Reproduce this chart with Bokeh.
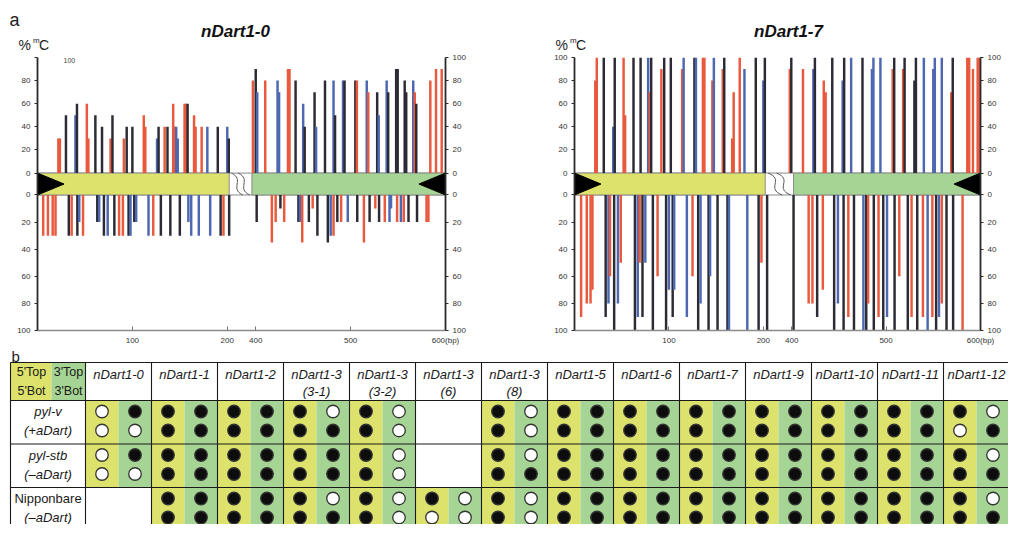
from bokeh.plotting import figure
from bokeh.models import Range1d, LinearAxis, FixedTicker, CustomJSTickFormatter, Label
from bokeh.layouts import column, row
from bokeh.embed import file_html
from bokeh.resources import INLINE
from bokeh.core.properties import value

FONT = "Liberation Sans"
CTX_COLORS = {"C": "#2b2b35", "G": "#4d68b0", "H": "#e9593d"}   # CG, CHG, CHH
YELLOW = "#dce26c"
GREEN = "#a6d494"

# ---------------- data: panel a (bp position, context, % methylation) ----------------
n0_top_pos = [22, 23.6, 30, 40, 41.6, 52, 53.6, 61, 68, 77, 79, 91, 94, 100, 112, 113.6, 126, 127.6, 134, 137,
              143, 144.6, 146.2, 147.8, 155, 156.6, 158.2, 165, 166.6, 173, 179, 190, 200, 201.6,
              397, 400, 401.6, 410, 423, 424.6, 434, 435.6, 442, 450, 451.6, 462, 463.6, 473, 482, 483.6,
              492, 493.6, 505, 506.6, 517, 518.6, 528, 529.6, 538, 539.6, 548, 549.6, 557, 558.6, 566, 567.6,
              569.2, 584, 590, 596]
n0_top_ctx = ["H", "H", "C", "G", "C", "H", "H", "C", "C", "H", "C", "H", "C", "C", "H", "H", "G", "C", "H", "C",
              "H", "H", "G", "G", "H", "H", "C", "H", "H", "H", "G", "C", "G", "C",
              "H", "C", "G", "H", "G", "G", "H", "H", "C", "G", "C", "C", "G", "C", "G", "C",
              "G", "C", "C", "H", "G", "H", "C", "G", "G", "C", "C", "C", "C", "C", "G", "H",
              "C", "H", "H", "H"]
n0_top_val = [30, 30, 50, 50, 60, 60, 30, 50, 40, 30, 50, 30, 40, 40, 50, 40, 30, 40, 40, 40,
              60, 40, 40, 30, 60, 60, 60, 50, 40, 40, 40, 40, 40, 30,
              80, 90, 70, 80, 80, 70, 90, 90, 80, 60, 40, 70, 40, 80, 80, 50,
              80, 80, 80, 80, 80, 70, 70, 50, 80, 70, 90, 90, 80, 70, 80, 70,
              60, 80, 90, 90]

n0_bot_pos = [6, 11, 16, 19, 33, 36, 42, 44, 48, 63, 65, 70, 74, 81, 86, 90, 96, 98, 102, 104, 117, 122, 130,
              140, 150, 159, 162, 170, 182, 193, 196, 202,
              401, 417, 421, 426, 430, 445, 446.6, 449, 456, 460, 465, 476, 479, 482, 486, 490, 497, 507, 514,
              520, 526, 530, 536, 541, 542.6, 549, 553, 556, 561, 570, 580, 582]
n0_bot_ctx = ["H", "H", "H", "H", "C", "H", "C", "G", "H", "C", "G", "C", "G", "C", "H", "H", "C", "G", "C", "G",
              "G", "H", "C", "C", "C", "G", "G", "G", "G", "C", "H", "C",
              "C", "H", "H", "C", "H", "C", "G", "H", "C", "H", "C", "C", "G", "H", "C", "H", "G", "C", "H",
              "C", "H", "C", "H", "G", "G", "H", "G", "H", "C", "C", "H", "H"]
n0_bot_val = [30, 30, 30, 30, 30, 30, 30, 20, 30, 20, 20, 30, 30, 30, 30, 30, 30, 30, 20, 20, 30, 30, 30,
              30, 30, 20, 30, 30, 30, 30, 30, 30,
              20, 35, 20, 10, 20, 20, 20, 35, 20, 10, 30, 35, 30, 30, 20, 20, 20, 20, 35,
              20, 10, 20, 20, 20, 10, 20, 20, 20, 20, 20, 20, 20]

n7_top_pos = [22, 23.6, 31, 41, 42.6, 52, 53.6, 62.5, 70, 78, 79.6, 81.2, 92, 95, 102, 114, 115.6, 127, 128.6,
              136, 137.6, 146, 147.6, 157, 158.6, 167, 168.6, 175, 180, 192, 200, 201.6,
              398, 399.6, 412, 423, 424.6, 434, 436, 443, 454, 455.6, 463, 475, 485, 486.6, 494, 507, 508.6,
              518, 519.6, 530, 531.6, 540, 550, 551.6, 559, 569, 570.6, 586, 588, 592, 597, 599]
n7_top_ctx = ["H", "H", "C", "G", "C", "H", "H", "C", "C", "G", "H", "C", "H", "C", "C", "H", "G", "C", "G",
              "H", "H", "H", "G", "H", "C", "H", "H", "H", "G", "C", "G", "C",
              "H", "C", "H", "G", "C", "H", "H", "C", "G", "C", "G", "C", "G", "G", "G", "H", "C",
              "H", "C", "C", "C", "G", "G", "G", "G", "H", "C", "H", "H", "H", "H", "H"]
n7_top_val = [80, 100, 100, 40, 100, 100, 50, 100, 100, 100, 70, 100, 90, 100, 100, 90, 100, 100, 100,
              100, 100, 80, 100, 90, 100, 30, 70, 100, 90, 100, 80, 100,
              90, 100, 90, 90, 100, 80, 70, 100, 80, 100, 100, 100, 90, 100, 100, 90, 100,
              90, 100, 80, 100, 100, 90, 100, 100, 70, 100, 100, 100, 90, 100, 100]

n7_bot_pos = [7, 13, 17, 19, 33, 36, 37.6, 42, 46, 49, 64, 67, 69, 72, 75, 83, 88, 97, 100, 104, 105.6, 119,
              125, 131, 133.5, 142, 143.6, 151.5, 162, 163.6, 183, 195, 198, 204,
              402, 418, 422, 427, 433, 445, 449, 455, 460, 466, 476, 479, 481, 487, 492, 497, 501, 509, 514,
              523, 527, 533, 539, 544, 549, 553, 556, 559, 564, 571, 581]
n7_bot_ctx = ["H", "H", "H", "H", "C", "G", "H", "C", "G", "H", "C", "G", "H", "C", "G", "C", "H", "C", "G",
              "C", "G", "G", "H", "C", "G", "C", "G", "C", "C", "G", "G", "C", "H", "C",
              "C", "H", "H", "C", "H", "C", "G", "C", "H", "C", "G", "C", "H", "C", "H", "C", "G", "C", "H",
              "C", "H", "C", "H", "G", "H", "C", "G", "H", "C", "C", "H"]
n7_bot_val = [90, 80, 80, 70, 90, 80, 60, 100, 80, 50, 100, 90, 50, 90, 50, 100, 60, 100, 70, 90, 70, 90,
              60, 100, 80, 100, 60, 100, 100, 100, 100, 100, 50, 100,
              100, 80, 80, 90, 70, 100, 80, 100, 90, 100, 100, 100, 80, 100, 90, 100, 90, 100, 60,
              100, 90, 100, 90, 100, 90, 100, 90, 80, 100, 100, 100]

y_ticks = [0, 20, 40, 60, 80, 100]
x_ticks_bp = [100, 200, 400, 500, 600]
x_tick_labels = ["100", "200", "400", "500", "600(bp)"]
panel_titles = ["nDart1-0", "nDart1-7"]

# ---------------- data: panel b ----------------
elements = ["nDart1-0", "nDart1-1", "nDart1-2", "nDart1-3", "nDart1-3", "nDart1-3", "nDart1-3",
            "nDart1-5", "nDart1-6", "nDart1-7", "nDart1-9", "nDart1-10", "nDart1-11", "nDart1-12"]
element_sub = ["", "", "", "(3-1)", "(3-2)", "(6)", "(8)", "", "", "", "", "", "", ""]
lines = ["pyl-v", "pyl-stb", "Nipponbare"]
line_sub = ["(+aDart)", "(\u2013aDart)", "(\u2013aDart)"]
# per cell: 5'Top, 3'Top, 5'Bot, 3'Bot  (1 = filled, 0 = open, "" = not present)
states_pyl_v = ["0100", "1111", "1111", "1011", "1010", "", "1010", "1111", "1111", "1111", "1111", "1111", "1111", "1001"]
states_pyl_stb = ["0100", "1111", "1111", "1111", "1010", "", "1011", "1111", "1111", "1111", "1111", "1111", "1111", "1011"]
states_nipponbare = ["", "1111", "1111", "1011", "1010", "1000", "1010", "1111", "1111", "1111", "1111", "1111", "1111", "1011"]

# ---------------- geometry (reference pixels) ----------------
W_ALL, H_ALL = 1008, 524
HEAD_H = 52
TOP_Y0 = HEAD_H
TOP_H = 347 - HEAD_H
PX_TOP, PX_UZ, PX_LZ, PX_BOT = 57, 173, 195, 331
UP_S = (PX_UZ - PX_TOP) / 100.0
DN_S = (PX_BOT - PX_LZ) / 100.0
Y_START = 100 - (PX_BOT - PX_TOP) / UP_S
DN_END = -(PX_LZ - PX_TOP) / DN_S
LZ_UP = 100 - (PX_LZ - PX_TOP) / UP_S
X_END = 430
BAR_W = 2.6


def dn_to_up(v):
    return 100 - (PX_LZ + v * DN_S - PX_TOP) / UP_S


def bp_to_u(b):
    return b if b < 300 else b - 170


JS_LOOKUP = """
for (let i = 0; i < t.length; i++) {
  if (Math.abs(tick - t[i]) < 1e-6) { return l[i]; }
}
return "";
"""


def panel(top_pos, top_ctx, top_val, bot_pos, bot_ctx, bot_val,
          fig_x0, fig_w, px_left, px_right, green_bp, stray_100):
    xs = (px_right - px_left) / X_END

    def rx(px):
        return (px - px_left) / xs

    def ry(py):
        return 100 - (py - PX_TOP) / UP_S

    p = figure(width=fig_w, height=TOP_H, x_range=Range1d(0, X_END), y_range=Range1d(Y_START, 100),
               output_backend="svg", toolbar_location=None, y_axis_location=None,
               min_border_left=px_left - fig_x0, min_border_right=fig_x0 + fig_w - px_right,
               min_border_top=PX_TOP - TOP_Y0, min_border_bottom=TOP_Y0 + TOP_H - PX_BOT)
    p.extra_y_ranges = {"down": Range1d(100, DN_END)}
    p.grid.visible = False
    p.outline_line_color = None

    # gene bar
    g0 = bp_to_u(202)
    g1 = bp_to_u(green_bp)
    p.quad(left=[0], right=[X_END], top=[0], bottom=[LZ_UP],
           fill_color="white", line_color="#8a8a8a", line_width=1)
    p.quad(left=[0, g1], right=[g0, X_END], top=[0, 0], bottom=[LZ_UP, LZ_UP],
           fill_color=[YELLOW, GREEN], line_color="#8a8a8a", line_width=1)
    w = g1 - g0
    x0 = [g0 + 0.1 * w, g0 + 0.4 * w]
    x1 = [g0 + 0.6 * w, g0 + 0.9 * w]
    p.bezier(x0=x0, y0=[0, 0], x1=x1, y1=[LZ_UP, LZ_UP],
             cx0=[x + 0.6 * w for x in x0], cy0=[LZ_UP * 0.3] * 2,
             cx1=[x - 0.6 * w for x in x1], cy1=[LZ_UP * 0.7] * 2,
             line_color="#555555", line_width=1)
    tl = 28
    p.patches(xs=[[0, 0, tl], [X_END, X_END, X_END - tl]],
              ys=[[0, LZ_UP, LZ_UP / 2], [0, LZ_UP, LZ_UP / 2]],
              fill_color="black", line_color="black")

    # bars
    p.vbar(x=[bp_to_u(b) for b in top_pos], top=top_val, bottom=0, width=BAR_W,
           fill_color=[CTX_COLORS[c] for c in top_ctx], line_color=None)
    p.vbar(x=[bp_to_u(b) for b in bot_pos], top=bot_val, bottom=0, width=BAR_W,
           fill_color=[CTX_COLORS[c] for c in bot_ctx], line_color=None, y_range_name="down")

    # y axes
    ticks = [float(v) for v in y_ticks] + [dn_to_up(v) for v in y_ticks]
    labels = [str(v) for v in y_ticks] * 2
    for side in ("left", "right"):
        labs = list(labels)
        if side == "left" and stray_100:
            labs[len(y_ticks) - 1] = ""
        ax = LinearAxis(ticker=FixedTicker(ticks=ticks),
                        formatter=CustomJSTickFormatter(args=dict(t=ticks, l=labs), code=JS_LOOKUP),
                        axis_line_color="#2a2a2a", axis_line_width=1.8,
                        major_tick_line_color="#2a2a2a", major_tick_out=3, major_tick_in=0,
                        minor_tick_line_color=None, major_label_standoff=4,
                        major_label_text_font=FONT, major_label_text_font_size="8px",
                        major_label_text_color="#333333")
        p.add_layout(ax, side)

    # x axis
    xt = [float(bp_to_u(b)) for b in x_ticks_bp]
    xa = p.xaxis[0]
    xa.ticker = FixedTicker(ticks=xt)
    xa.formatter = CustomJSTickFormatter(args=dict(t=xt, l=x_tick_labels), code=JS_LOOKUP)
    xa.axis_line_color = "#8c8c8c"
    xa.axis_line_width = 1.5
    xa.major_tick_line_color = "#777777"
    xa.major_tick_in = 4
    xa.major_tick_out = 0
    xa.minor_tick_line_color = None
    xa.major_label_standoff = 5
    xa.major_label_text_font = FONT
    xa.major_label_text_font_size = "8px"
    xa.major_label_text_color = "#333333"

    if stray_100:
        p.add_layout(Label(x=rx(63), y=ry(60), text="100", text_font=FONT, text_font_size="7px",
                           text_align="left", text_baseline="middle", text_color="#444444"))
    return p


p_left = panel(n0_top_pos, n0_top_ctx, n0_top_val, n0_bot_pos, n0_bot_ctx, n0_bot_val,
               0, 505, 37, 445, 396, True)
p_right = panel(n7_top_pos, n7_top_ctx, n7_top_val, n7_bot_pos, n7_bot_ctx, n7_bot_val,
                505, W_ALL - 505, 574, 980, 402, False)

# ---------------- heading strip (panel letter, titles, %mC) ----------------
h = figure(width=W_ALL, height=HEAD_H, x_range=Range1d(0, W_ALL), y_range=Range1d(HEAD_H, 0),
           output_backend="svg", toolbar_location=None, x_axis_location=None, y_axis_location=None,
           min_border=0)
h.grid.visible = False
h.outline_line_color = None
h.text(x=[9], y=[19], text=["a"], text_font=value(FONT), text_font_size="18px",
       text_align="left", text_baseline="middle", text_color="#222222")
h.text(x=[235, 788], y=[31, 31], text=panel_titles, text_font=value(FONT), text_font_size="17px",
       text_font_style="bold italic", text_align="center", text_baseline="middle", text_color="#111111")
pct_x = [18, 555]
h.text(x=pct_x, y=[44, 44], text=["%", "%"], text_font=value(FONT), text_font_size="14px",
       text_align="left", text_baseline="middle", text_color="#222222")
h.text(x=[v + 14.5 for v in pct_x], y=[40, 40], text=["m", "m"], text_font=value(FONT), text_font_size="8px",
       text_align="left", text_baseline="middle", text_color="#222222")
h.text(x=[v + 20.5 for v in pct_x], y=[44, 44], text=["C", "C"], text_font=value(FONT), text_font_size="14px",
       text_align="left", text_baseline="middle", text_color="#222222")

# ---------------- panel b: table ----------------
T_Y0 = 347
T_H = H_ALL - T_Y0
COL_W = 66.0
LAB_L, LAB_M, LAB_R = 10, 51, 85
HDR_TOP, HDR_BOT = 362, 400
ROW_EDGES = [400, 443.5, 487, 530.5]
SUB_DY = [11, 30]
TFS = "13px"


def tx(px):
    return (px - LAB_R) / COL_W


def ty(py):
    return py - T_Y0


t = figure(width=W_ALL, height=T_H, x_range=Range1d(tx(0), tx(W_ALL)), y_range=Range1d(T_H, 0),
           output_backend="svg", toolbar_location=None, x_axis_location=None, y_axis_location=None,
           min_border=0)
t.grid.visible = False
t.outline_line_color = None

all_states = [states_pyl_v, states_pyl_stb, states_nipponbare]
ncol = len(elements)

# backgrounds
ql, qr, qt, qb, qc = [tx(LAB_L), tx(LAB_M)], [tx(LAB_M), tx(LAB_R)], [ty(HDR_TOP)] * 2, [ty(HDR_BOT)] * 2, [YELLOW, GREEN]
for r, states in enumerate(all_states):
    for j, s in enumerate(states):
        if s:
            ql += [j, j + 0.5]
            qr += [j + 0.5, j + 1]
            qt += [ty(ROW_EDGES[r])] * 2
            qb += [ty(ROW_EDGES[r + 1])] * 2
            qc += [YELLOW, GREEN]
t.quad(left=ql, right=qr, top=qt, bottom=qb, fill_color=qc, line_color=None)

# grid lines
hy = [HDR_TOP] + ROW_EDGES[:-1]
t.segment(x0=[tx(LAB_L)] * len(hy), x1=[ncol + 1] * len(hy), y0=[ty(v) for v in hy], y1=[ty(v) for v in hy],
          line_color="#1a1a1a", line_width=1.1)
vx = [tx(LAB_L)] + list(range(0, ncol + 1))
t.segment(x0=vx, x1=vx, y0=[ty(HDR_TOP)] * len(vx), y1=[ty(ROW_EDGES[-1] + 20)] * len(vx),
          line_color="#1a1a1a", line_width=1.1)

# circles
cx, cy, cfill = [], [], []
for r, states in enumerate(all_states):
    rt = ROW_EDGES[r]
    for j, s in enumerate(states):
        if not s:
            continue
        for k, ch in enumerate(s):
            cx.append(j + (0.25 if k % 2 == 0 else 0.75))
            cy.append(ty(rt + SUB_DY[0 if k < 2 else 1]))
            cfill.append("#0d0d0d" if ch == "1" else "white")
t.scatter(x=cx, y=cy, marker="circle", size=12.5, fill_color=cfill, line_color="#333333", line_width=1.3)

# header texts
t.text(x=[j + 0.5 for j in range(ncol)], y=[ty(HDR_TOP + 12)] * ncol, text=elements, text_font=value(FONT),
       text_font_size=TFS, text_font_style="italic", text_align="center", text_baseline="middle",
       text_color="#1a1a1a")
sub_idx = [j for j in range(ncol) if element_sub[j]]
t.text(x=[j + 0.5 for j in sub_idx], y=[ty(HDR_TOP + 29)] * len(sub_idx), text=[element_sub[j] for j in sub_idx],
       text_font=value(FONT), text_font_size=TFS, text_font_style="italic", text_align="center",
       text_baseline="middle", text_color="#1a1a1a")
t.text(x=[tx(31), tx(68), tx(31), tx(68)], y=[ty(HDR_TOP + 9)] * 2 + [ty(HDR_TOP + 28)] * 2,
       text=["5'Top", "3'Top", "5'Bot", "3'Bot"], text_font=value(FONT), text_font_size="12.5px",
       text_align="center", text_baseline="middle", text_color="#1a1a1a")

# row labels
lab_x = tx((LAB_L + LAB_R) / 2)
t.text(x=[lab_x, lab_x], y=[ty(ROW_EDGES[0] + SUB_DY[0]), ty(ROW_EDGES[1] + SUB_DY[0])], text=lines[:2],
       text_font=value(FONT), text_font_size=TFS, text_font_style="italic", text_align="center",
       text_baseline="middle", text_color="#1a1a1a")
t.text(x=[lab_x], y=[ty(ROW_EDGES[2] + SUB_DY[0])], text=lines[2:], text_font=value(FONT), text_font_size=TFS,
       text_align="center", text_baseline="middle", text_color="#1a1a1a")
t.text(x=[lab_x] * 3, y=[ty(e + SUB_DY[1]) for e in ROW_EDGES[:3]], text=line_sub, text_font=value(FONT),
       text_font_size=TFS, text_font_style="italic", text_align="center", text_baseline="middle",
       text_color="#1a1a1a")

t.text(x=[tx(11)], y=[ty(356)], text=["b"], text_font=value(FONT), text_font_size="15px",
       text_align="left", text_baseline="middle", text_color="#222222")

layout = column(h, row(p_left, p_right), t)
open("out.html", "w").write(file_html(layout, INLINE))
